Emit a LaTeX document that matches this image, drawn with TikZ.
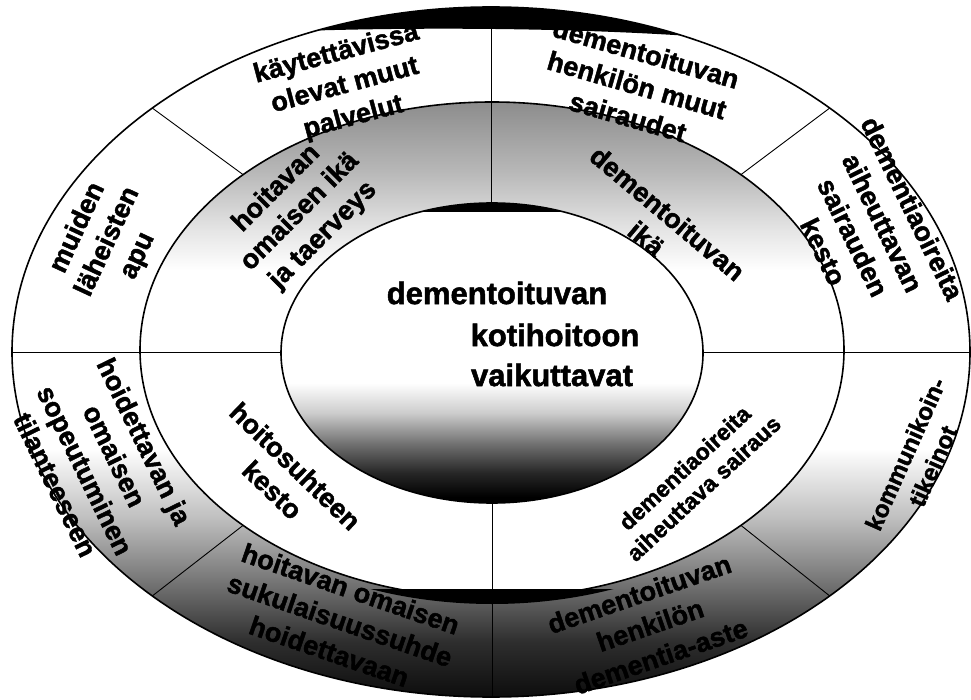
\documentclass[tikz,border=0pt]{standalone}
\usepackage{fontspec}
\setmainfont{Liberation Sans}
\newfontfamily\labelfont{Liberation Sans}[UprightFont={* Bold}, FakeBold=1.6]

% shadings of the three rings (bottom -> top)
\pgfdeclareverticalshading{outershade}{100bp}{color(0bp)=(black!95); color(25bp)=(black!95); color(29bp)=(black!82); color(34bp)=(black!50); color(38bp)=(black!25); color(43bp)=(white); color(100bp)=(white)}
\pgfdeclareverticalshading{middleshade}{100bp}{color(0bp)=(white); color(58bp)=(white); color(62bp)=(black!10); color(68bp)=(black!28); color(75bp)=(black!45); color(100bp)=(black!45)}
\pgfdeclareverticalshading{coreshade}{100bp}{color(0bp)=(black); color(26bp)=(black); color(30bp)=(black!85); color(35bp)=(black!55); color(40bp)=(black!20); color(45bp)=(white); color(100bp)=(white)}

\tikzset{
  rim/.style={line width=1.6pt},
  divider/.style={line width=0.9pt},
  ringlabel/.style={align=center, inner sep=0pt, font=\fontsize{27}{33}\selectfont\labelfont},
  smalllabel/.style={ringlabel, font=\fontsize{23}{28}\selectfont\labelfont},
  corelabel/.style={inner sep=0pt, font=\fontsize{31}{41}\selectfont\labelfont}
}

\begin{document}
\begin{tikzpicture}[x=1pt,y=1pt]

\useasboundingbox (0,0) rectangle (971,-700);

\coordinate (oc) at (491,-352);
\coordinate (mc) at (492,-350);
\coordinate (ic) at (492,-353);

% Ulkorengas
\shade[shading=outershade] (oc) ellipse [x radius=479pt, y radius=345pt];
\begin{scope}
\clip (oc) ellipse [x radius=479pt, y radius=345pt];
\fill[black] (300,0) -- (300,-31) .. controls (420,-27) and (570,-28) .. (690,-36) -- (690,0) -- cycle;
\end{scope}
\draw[rim] (oc) ellipse [x radius=479pt, y radius=345pt];

% Keskirengas
\shade[shading=middleshade] (mc) ellipse [x radius=352pt, y radius=248pt];
\begin{scope}
\clip (mc) ellipse [x radius=358pt, y radius=254pt];
\fill[black] (340,-589) rectangle (640,-610);
\end{scope}
\draw[rim] (mc) ellipse [x radius=352pt, y radius=248pt];

% Sisaellipsi
\shade[shading=coreshade] (ic) ellipse [x radius=211pt, y radius=150pt];
\begin{scope}
\clip (ic) ellipse [x radius=211pt, y radius=150pt];
\fill[black] (400,-190) rectangle (600,-212);
\end{scope}
\draw[rim] (ic) ellipse [x radius=211pt, y radius=150pt];

% jakoviivat
\foreach \a in {0,90,180,270}
{
\path (oc) ++(\a:479pt and 345pt) coordinate (o\a);
\path (ic) ++(\a:211pt and 150pt) coordinate (i\a);
}
\draw[divider] (o90) -- (o90 |- i90);
\draw[divider] (i270) -- (i270 |- o270);
\draw[divider] (o180) -- (o180 -| i180);
\draw[divider] (o0) -- (o0 -| i0);

\foreach \a in {45,135,225,315}
{
\path (mc) ++(\a:352pt and 248pt) coordinate (m\a);
\path (oc) ++(\a:479pt and 345pt) coordinate (q\a);
\draw[divider] (m\a) -- (q\a);
}

% tekstit
\node[ringlabel, rotate=15] (palvelut) at (345,-86)
{käytettävissä\\olevat muut\\palvelut};
\node[ringlabel, rotate=-16] (sairaudet) at (637,-85)
{dementoituvan\\henkilön muut\\sairaudet};
\node[ringlabel, rotate=65] (apu) at (108,-242)
{muiden\\läheisten\\apu};
\node[ringlabel, rotate=-64] (kesto) at (868,-230)
{dementiaoireita\\aiheuttavan\\sairauden\\kesto};
\node[ringlabel, rotate=-64] (sopeutuminen) at (100,-463)
{hoidettavan ja\\omaisen\\sopeutuminen\\tilanteeseen};
\node[ringlabel, rotate=66, font=\fontsize{24}{30}\selectfont\labelfont] (kommunikointi) at (919,-460)
{kommunikoin-\\tikeinot};
\node[ringlabel, rotate=-19] (sukulaisuus) at (340,-620)
{hoitavan omaisen\\sukulaisuussuhde\\hoidettavaan};
\node[ringlabel, rotate=19] (aste) at (650,-625)
{dementoituvan\\henkilön\\dementia-aste};

\node[ringlabel, rotate=45] (terveys) at (300,-212)
{hoitavan\\omaisen ikä\\ja taerveys};
\node[ringlabel, rotate=-40] (ika) at (657,-226)
{dementoituvan\\ikä};
\node[ringlabel, rotate=-44] (hoitosuhde) at (284,-478)
{hoitosuhteen\\kesto};
\node[smalllabel, rotate=43] (sairaus) at (694,-478)
{dementiaoireita\\aiheuttava sairaus};

\node[corelabel] (dementoituvan) at (497,-293) {dementoituvan};
\node[corelabel] (kotihoitoon) at (555,-335) {kotihoitoon};
\node[corelabel] (vaikuttavat) at (552,-375) {vaikuttavat};

\end{tikzpicture}
\end{document}
